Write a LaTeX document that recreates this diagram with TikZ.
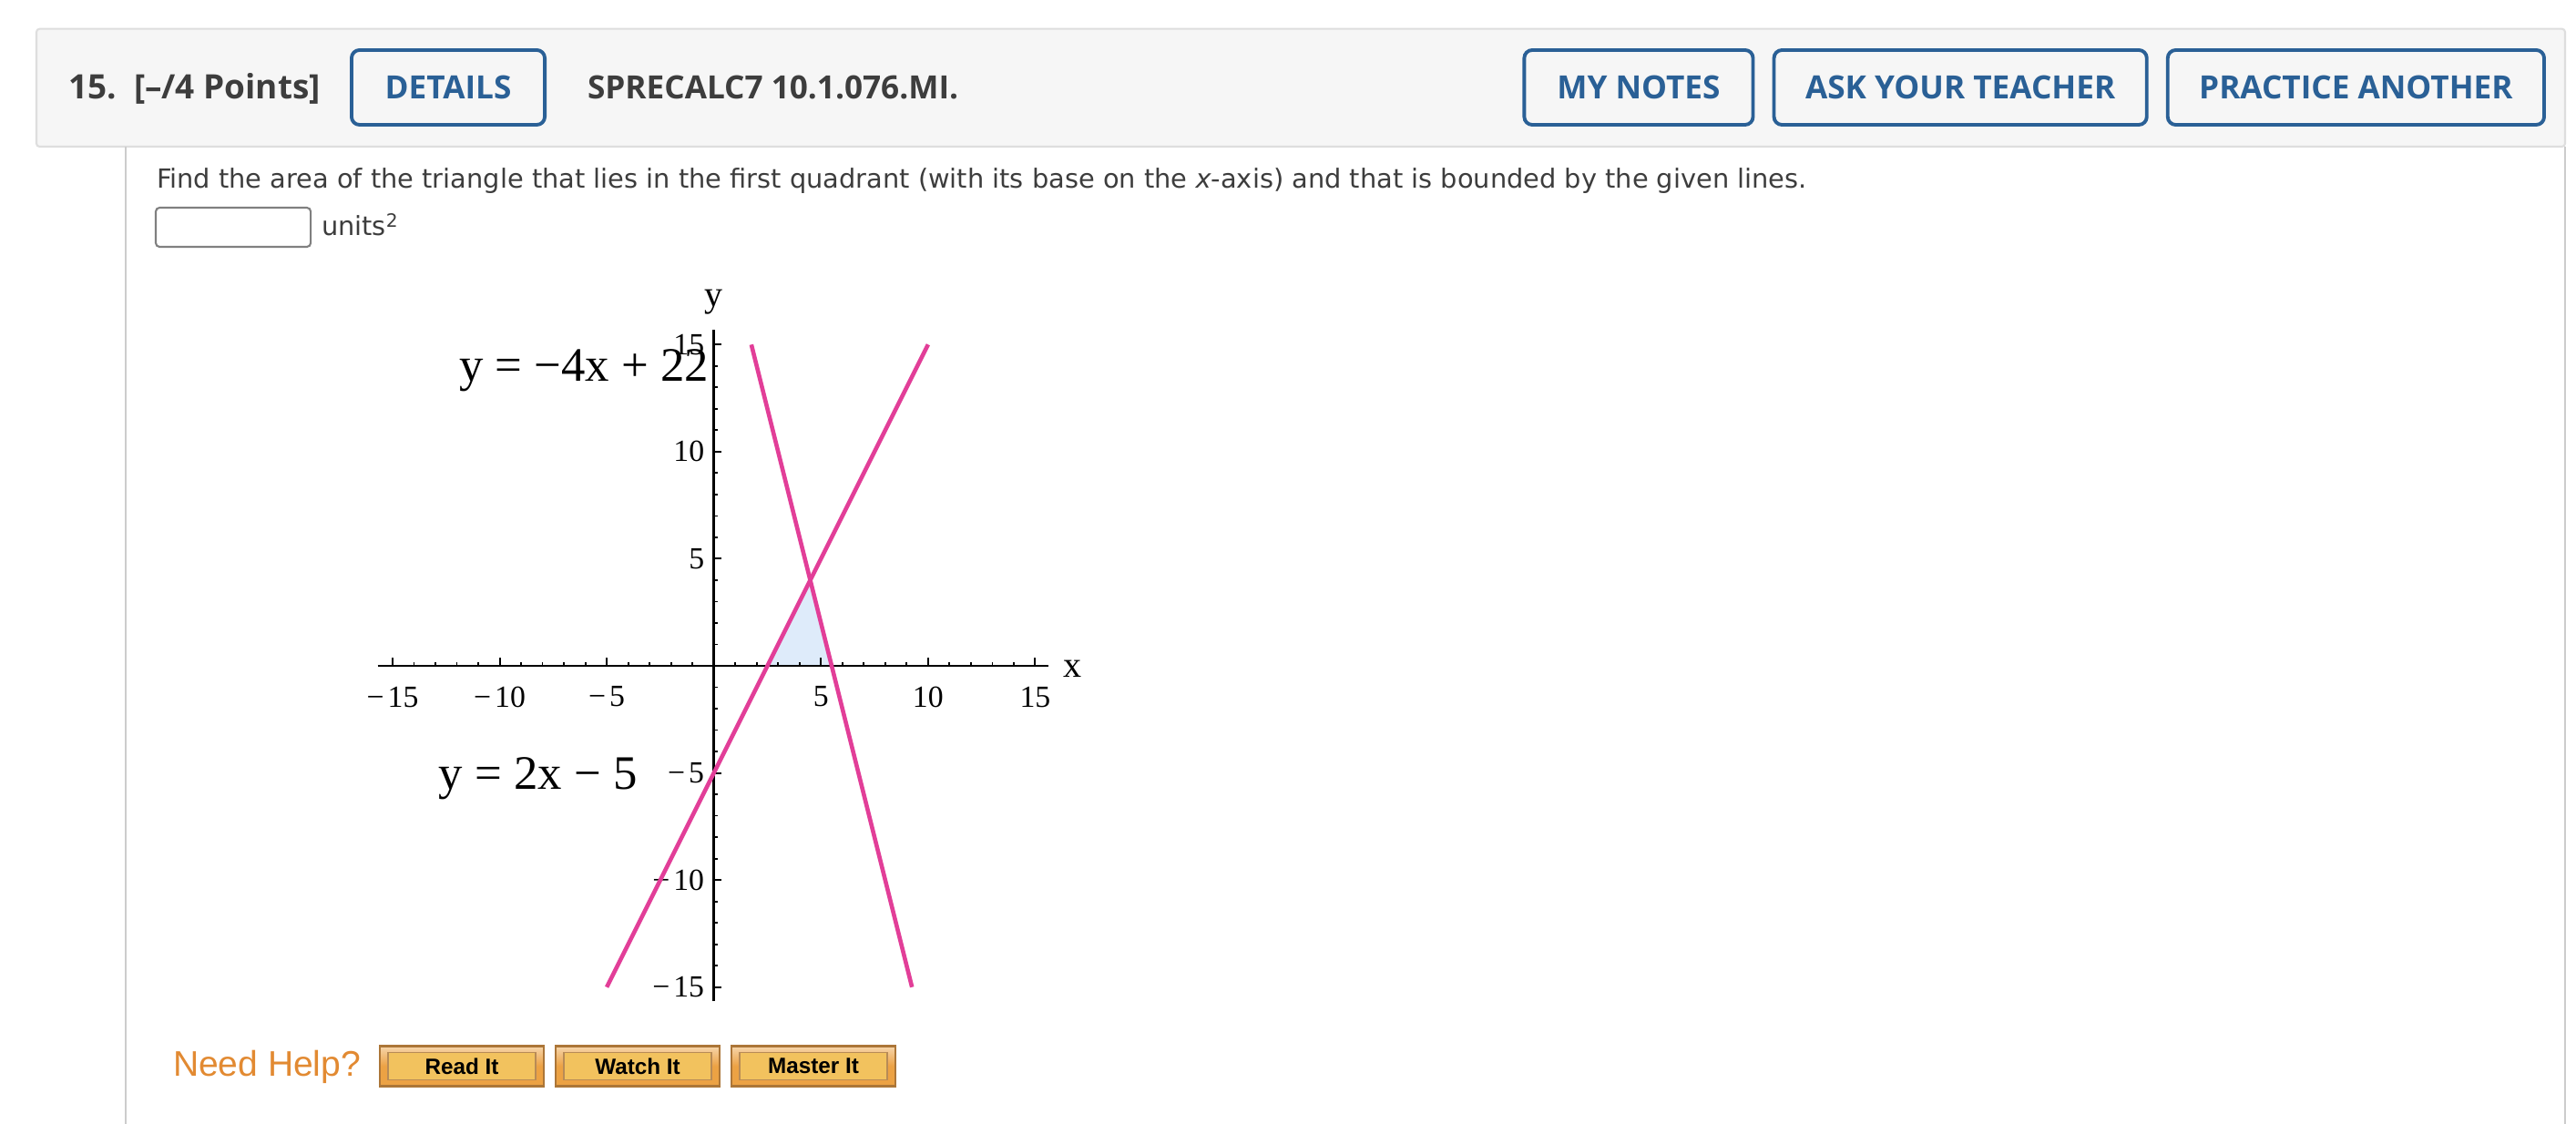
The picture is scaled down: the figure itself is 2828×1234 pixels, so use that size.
\documentclass[tikz,border=0pt]{standalone}
\usepackage{fontspec}
\setmainfont{DejaVu Sans}
\newfontfamily\hdrfont{Open Sans}
\newfontfamily\plotfont{Liberation Serif}
\newfontfamily\helpfont{Liberation Sans}
\usetikzlibrary{positioning}

\definecolor{bandgray}{RGB}{246,246,246}
\definecolor{bandline}{RGB}{222,222,222}
\definecolor{sideline}{RGB}{204,204,204}
\definecolor{btnblue}{RGB}{42,96,150}
\definecolor{txtgray}{RGB}{61,61,61}
\definecolor{linepink}{RGB}{226,62,152}
\definecolor{shadeblue}{RGB}{222,235,250}
\definecolor{helporange}{RGB}{226,138,50}
\definecolor{btnedge}{RGB}{172,118,56}
\definecolor{btnfill}{RGB}{236,162,68}
\definecolor{btninner}{RGB}{242,194,94}

\begin{document}
\begin{tikzpicture}[
    x=0.01cm, y=-0.01cm,
    every node/.style={inner sep=0pt, outer sep=0pt},
    hdrbtn/.style={draw=btnblue, line width=1.1pt, rounded corners=2.5pt, fill=bandgray, text=btnblue, font=\hdrfont\bfseries\fontsize{10}{12}\selectfont, minimum height=0.82cm},
    hdrtxt/.style={anchor=base west, text=txtgray, font=\hdrfont\bfseries\fontsize{10.5}{12}\selectfont},
    body/.style={anchor=base west, text=txtgray, font=\fontsize{8.2}{10}\selectfont},
    tick/.style={font=\plotfont\fontsize{9.6}{11}\selectfont},
    eqlabel/.style={anchor=base east, font=\plotfont\fontsize{15}{17}\selectfont},
    axislabel/.style={font=\plotfont\fontsize{11.4}{13}\selectfont},
    pinkline/.style={linepink, line width=1.3pt},
    helpbtn/.style={draw=btnedge, line width=0.6pt, top color=btnfill!45!white, bottom color=btnfill, middle color=btnfill, minimum width=1.8cm, minimum height=0.44cm},
    helpin/.style={draw=btnedge!85, line width=0.5pt, fill=btninner, minimum width=1.62cm, minimum height=0.3cm, font=\helpfont\bfseries\fontsize{6.9}{8}\selectfont}
  ]
    \useasboundingbox[fill=white] (0,0) rectangle (2828,1234);

    % header band and side rules
    \draw[bandline, fill=bandgray, line width=0.6pt, rounded corners=1pt] (40,31.7) rectangle (2816,161);
    \draw[sideline, line width=0.6pt] (138,161) -- (138,1234);
    \draw[sideline, line width=0.6pt] (2816,161) -- (2816,1234);

    % header texts and buttons
    \node[hdrtxt] (qnum) at (75,109) {15.};
    \node[hdrtxt] (points) at (147,109) {[–/4 Points]};
    \node[hdrbtn, minimum width=2.12cm] (details) at (492,96) {DETAILS};
    \node[hdrtxt, font=\hdrfont\bfseries\fontsize{10}{12}\selectfont] (code) at (645,109) {SPRECALC7 10.1.076.MI.};
    \node[hdrbtn, minimum width=4.13cm, anchor=east] (practice) at (2793,96) {PRACTICE ANOTHER};
    \node[hdrbtn, minimum width=4.09cm, left=0.23cm of practice] (ask) {ASK YOUR TEACHER};
    \node[hdrbtn, minimum width=2.51cm, left=0.23cm of ask] (notes) {MY NOTES};

    % question text and answer box
    \node[body] (task) at (172,207) {Find the area of the triangle that lies in the first quadrant (with its base on the \textit{x}-axis) and that is bounded by the given lines.};
    \node[draw=gray, line width=0.6pt, rounded corners=1.2pt, minimum width=1.70cm, minimum height=0.43cm, anchor=north west] (answer) at (171,228) {};
    \node[body] (units) at (353,259) {units\textsuperscript{2}};

    % plot
    \begin{scope}[shift={(783.7,731)}, x=0.235cm, y=0.235cm]
      \fill[shadeblue] (2.5,0) -- (4.5,4) -- (5.5,0) -- cycle;
      \draw[line width=0.7pt] (-15.7,0) -- (15.6,0);
      \draw[line width=0.7pt] (0,-15.66) -- (0,15.7);
      \foreach \t in {-15,...,15}{
        \draw[line width=0.5pt] (\t,0) -- (\t,0.19);
        \draw[line width=0.5pt] (0,\t) -- (0.17,\t);
      }
      \foreach \t in {-15,-10,-5,5,10,15}{
        \draw[line width=0.6pt] (\t,0) -- (\t,0.38);
        \draw[line width=0.6pt] (0,\t) -- (0.34,\t);
      }
      \foreach \t/\lbl in {-15/−\hspace{0.12em}15,-10/−\hspace{0.12em}10,-5/−\hspace{0.12em}5,5/5,10/10,15/15}{
        \node[tick] (xt\t) at (\t,-1.45) {\lbl};
        \node[tick, anchor=east] (yt\t) at (-0.45,\t) {\lbl};
      }
      \node[axislabel] (ylab) at (0,16.98) {y};
      \node[axislabel] (xlab) at (16.74,-0.13) {x};

      \draw[pinkline] (1.75,15) -- (9.25,-15);
      \draw[pinkline] (-5,-15) -- (10,15);

      \node[eqlabel] (eqdown) at (-0.24,13.31) {y = −4x + 22};
      \node[eqlabel] (equp) at (-3.58,-5.77) {y = 2x − 5};
    \end{scope}

    % help row
    \node[anchor=west, text=helporange, font=\helpfont\fontsize{11.1}{13}\selectfont] (needhelp) at (190,1171) {Need Help?};
    \foreach \lbl/\xc [count=\i] in {Read It/507, Watch It/700, Master It/893}{
      \node[helpbtn] (help\i) at (\xc,1170.5) {};
      \node[helpin] (helptxt\i) at (help\i.center) {\lbl};
    }
  \end{tikzpicture}
\end{document}
